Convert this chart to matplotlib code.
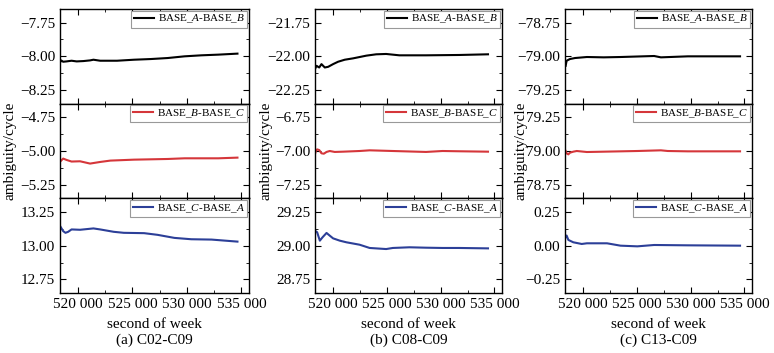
import matplotlib
matplotlib.use("Agg")
import matplotlib.pyplot as plt
from matplotlib.ticker import MultipleLocator, FuncFormatter

plt.rcParams['font.family'] = ['Liberation Serif', 'DejaVu Serif']
plt.rcParams['mathtext.fontset'] = 'custom'
plt.rcParams['mathtext.rm'] = 'Liberation Serif'
plt.rcParams['mathtext.it'] = 'Liberation Serif:italic'

# ---- data ----
# (a) C02-C09
a_ab_t = [518360, 518450, 518640, 518950, 519410, 519880, 520500, 521110, 521420, 522040,
          523590, 525140, 526690, 528240, 529780, 531330, 532880, 534640]
a_ab_v = [-8.045, -8.03, -8.04, -8.0375, -8.0325, -8.0375, -8.035, -8.03, -8.025, -8.0325,
          -8.0325, -8.025, -8.02, -8.0125, -8.0, -7.9925, -7.9875, -7.98]
a_bc_t = [518420, 518640, 518950, 519410, 520190, 521110, 522040, 522970, 525140, 528240,
          529780, 532880, 534640]
a_bc_v = [-5.074, -5.056, -5.066, -5.078, -5.076, -5.093, -5.081, -5.071, -5.064, -5.059,
          -5.054, -5.054, -5.049]
a_ca_t = [518360, 518640, 518850, 519100, 519410, 520190, 521420, 522040, 523280, 524210,
          526070, 527310, 528850, 530400, 532260, 534640]
a_ca_v = [13.145, 13.1075, 13.095, 13.1025, 13.12, 13.1175, 13.1275, 13.12, 13.1025, 13.095,
          13.0925, 13.08, 13.0575, 13.0475, 13.045, 13.03]

# (b) C08-C09
b_ab_t = [518340, 518490, 518740, 518950, 519260, 519570, 520030, 520490, 521110, 521880,
          523110, 524030, 524950, 526180, 528650, 531720, 534400]
b_ab_v = [-22.095, -22.07, -22.0825, -22.0575, -22.0825, -22.0775, -22.0575, -22.04, -22.025,
          -22.015, -21.995, -21.985, -21.9825, -21.9925, -21.9925, -21.99, -21.985]
b_bc_t = [518340, 518430, 518550, 518740, 518950, 519170, 519420, 519720, 520180, 520950,
          522490, 523420, 525570, 528650, 530180, 531720, 534400]
b_bc_v = [-7.025, -7.0, -6.988, -6.993, -7.017, -7.02, -7.007, -7.0, -7.007, -7.005,
          -7.0, -6.995, -7.0, -7.007, -7.0, -7.002, -7.005]
b_ca_t = [518340, 518550, 518800, 519050, 519420, 519720, 520030, 520650, 521260, 522490,
          523420, 524950, 525570, 527110, 528650, 530180, 531720, 534400]
b_ca_v = [29.111, 29.099, 29.037, 29.062, 29.094, 29.074, 29.054, 29.037, 29.025, 29.007,
          28.983, 28.975, 28.983, 28.988, 28.985, 28.983, 28.983, 28.98]

# (c) C13-C09
c_ab_t = [518410, 518500, 518810, 519280, 520380, 521940, 523500, 526620, 527250, 529750, 534590]
c_ab_v = [-79.07, -79.0325, -79.02, -79.0125, -79.005, -79.0075, -79.005, -78.9975, -79.0075,
          -79.0, -79.0]
c_bc_t = [518410, 518500, 518660, 518810, 519120, 519440, 520380, 521940, 523500, 525060,
          527250, 527880, 529750, 534590]
c_bc_v = [79.0, 78.9825, 78.975, 78.9875, 78.995, 79.0, 78.9925, 78.995, 78.9975, 79.0,
          79.005, 79.0, 78.9975, 78.9975]
c_ca_t = [518410, 518500, 518660, 519120, 519900, 520380, 521310, 522250, 523500, 525060,
          526620, 529750, 534590]
c_ca_v = [0.0625, 0.075, 0.0425, 0.025, 0.0125, 0.0175, 0.0175, 0.0175, 0.0, -0.005,
          0.005, 0.0025, 0.0]

centers = [[-8.0, -5.0, 13.0], [-22.0, -7.0, 29.0], [-79.0, 79.0, 0.0]]
captions = ["(a) C02-C09", "(b) C08-C09", "(c) C13-C09"]
labels = [r"BASE_$\mathit{A}$-BASE_$\mathit{B}$",
          r"BASE_$\mathit{B}$-BASE_$\mathit{C}$",
          r"BASE_$\mathit{C}$-BASE_$\mathit{A}$"]
colors = ["black", "#d5363a", "#2c3f98"]

panels = [[(a_ab_t, a_ab_v), (a_bc_t, a_bc_v), (a_ca_t, a_ca_v)],
          [(b_ab_t, b_ab_v), (b_bc_t, b_bc_v), (b_ca_t, b_ca_v)],
          [(c_ab_t, c_ab_v), (c_bc_t, c_bc_v), (c_ca_t, c_ca_v)]]

W, H = 774, 353
lefts = [60, 315, 565]
rights = [249, 502, 752]
ylab_x = [-0.23, -0.225, -0.2]

fig = plt.figure(figsize=(W / 100, H / 100), dpi=100)

y_fmt = FuncFormatter(lambda v, p: ("%.2f" % v).replace("-", "\u2212"))
x_fmt = FuncFormatter(lambda v, p: "{:,.0f}".format(v).replace(",", " "))

for i in range(3):
    gs = fig.add_gridspec(3, 1, left=lefts[i] / W, right=rights[i] / W,
                          top=1 - 9 / H, bottom=1 - 293 / H, hspace=0)
    axes = []
    for j in range(3):
        ax = fig.add_subplot(gs[j], sharex=axes[0] if axes else None)
        axes.append(ax)
        t, v = panels[i][j]
        ax.plot(t, v, color=colors[j], lw=1.5, label=labels[j])
        c = centers[i][j]
        ax.set_ylim(c - 0.35, c + 0.35)
        ax.yaxis.set_major_locator(MultipleLocator(0.25))
        ax.yaxis.set_minor_locator(MultipleLocator(0.125))
        ax.yaxis.set_major_formatter(y_fmt)
        ax.set_xlim(518350, 535700)
        ax.xaxis.set_major_locator(MultipleLocator(5000))
        ax.xaxis.set_minor_locator(MultipleLocator(2500))
        ax.tick_params(which='both', direction='in', top=True, right=True, labelsize=11)
        ax.tick_params(which='major', length=4, width=0.8)
        ax.tick_params(which='minor', length=2.5, width=0.6)
        if j < 2:
            ax.tick_params(labelbottom=False)
        else:
            ax.xaxis.set_major_formatter(x_fmt)
        for s in ax.spines.values():
            s.set_linewidth(1.0)
        leg = ax.legend(loc='upper right', fontsize=8, frameon=True, fancybox=False,
                        edgecolor='#999999', framealpha=1, borderaxespad=0.15,
                        borderpad=0.2, handlelength=1.8, handletextpad=0.4)
        leg.get_frame().set_linewidth(0.8)
    axes[1].set_ylabel("ambiguity/cycle", fontsize=11)
    axes[1].yaxis.set_label_coords(ylab_x[i], 0.5)
    cx = (lefts[i] + rights[i]) / 2 / W
    fig.text(cx, 1 - 324 / H, "second of week", ha='center', va='center', fontsize=11)
    fig.text(cx, 1 - 340 / H, captions[i], ha='center', va='center', fontsize=11)

fig.savefig("out.png", dpi=100)
